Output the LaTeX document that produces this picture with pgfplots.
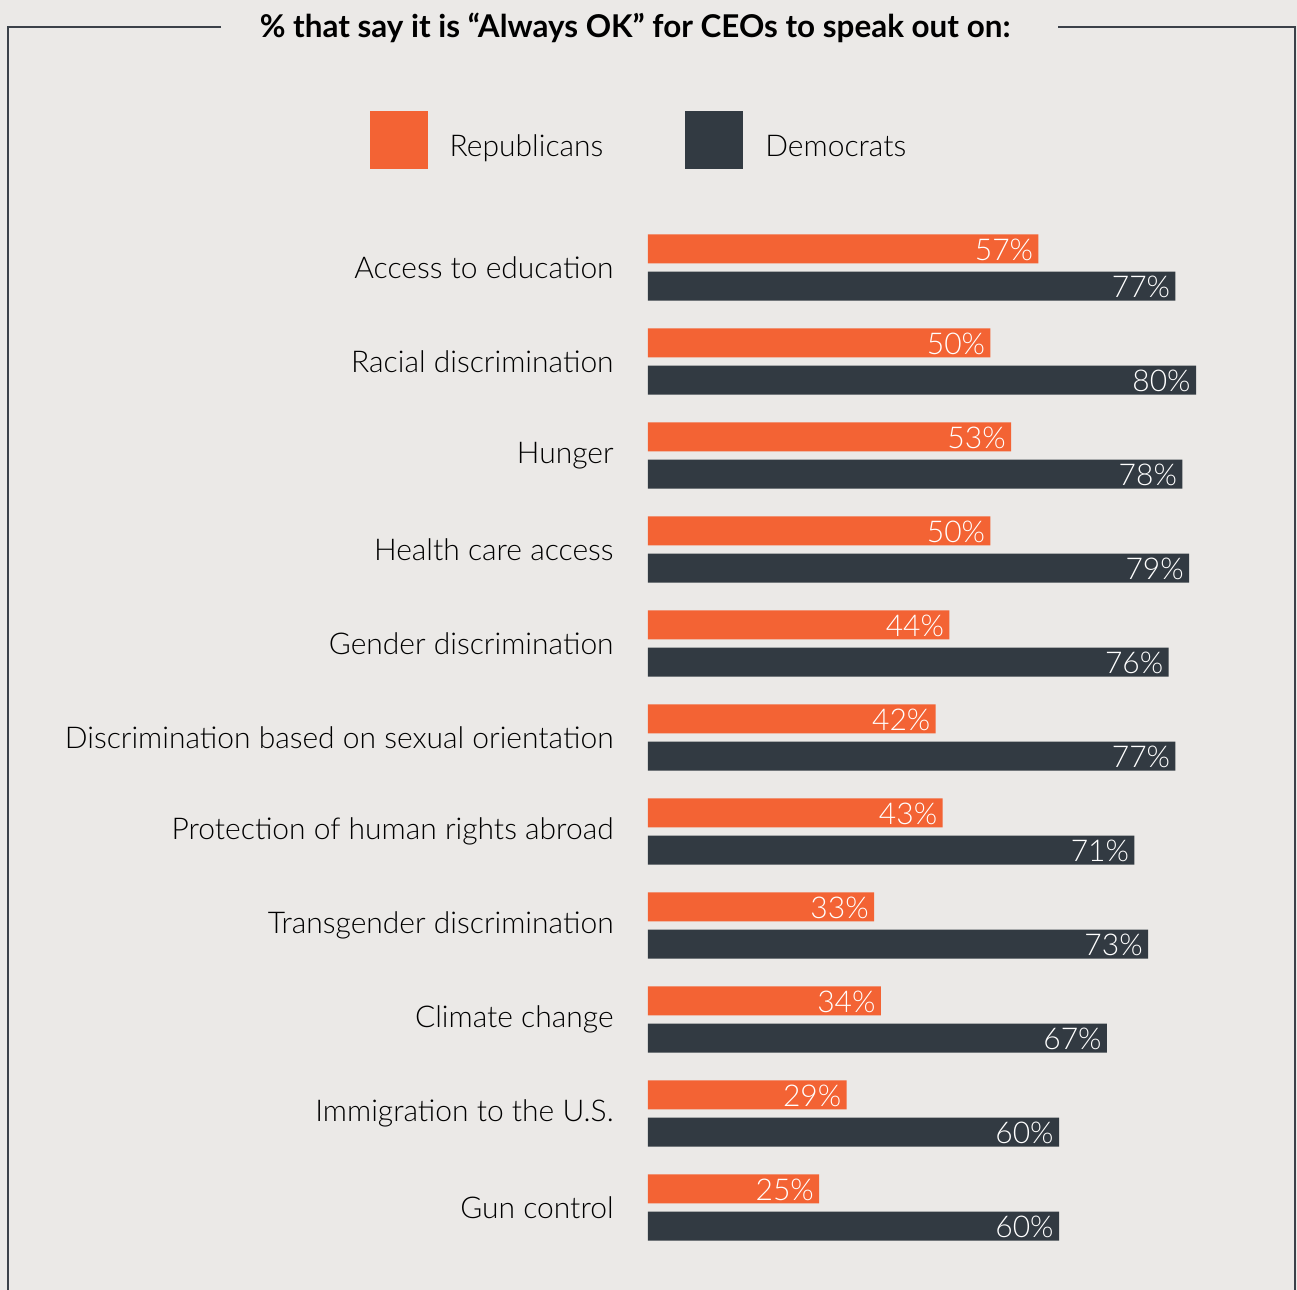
\documentclass[border=0pt]{standalone}
\usepackage{pgfplots}
\pgfplotsset{compat=1.18}
\usepackage{fontspec}
\setmainfont{Lato Light}[BoldFont={Lato Bold}]
\definecolor{rep}{HTML}{F36334}
\definecolor{dem}{HTML}{323A42}
\definecolor{bg}{HTML}{EBE9E7}
\definecolor{framec}{HTML}{3B4149}
\begin{document}
\begin{tikzpicture}
\path[use as bounding box, fill=bg] (0,0) rectangle (648.5pt,645pt);
\draw[framec, line width=1pt] (110.5pt,631.5pt) -- (4pt,631.5pt) -- (4pt,-1pt);
\draw[framec, line width=1pt] (529pt,631.5pt) -- (647.5pt,631.5pt) -- (647.5pt,-1pt);
\node[anchor=base, font=\fontsize{15.7}{18}\selectfont\bfseries, inner sep=0pt] at (317.5pt,626pt) {\% that say it is “Always OK” for CEOs to speak out on:};
\begin{axis}[
  at={(324pt,558.25pt)}, anchor=north west,
  x=3.425pt, y=47pt, xmin=0, xmax=94, ymin=0, ymax=11.6, y dir=reverse,
  clip=false, axis line style={draw=none}, tick style={draw=none}, major tick length=0pt,
  xtick=\empty, ytick={1,...,11},
  yticklabels={Access to education, Racial discrimination, Hunger, Health care access, Gender discrimination, Discrimination based on sexual orientation, Protection of human rights abroad, Transgender discrimination, Climate change, Immigration to the U.S., Gun control},
  yticklabel style={inner sep=0pt, xshift=-17pt, font=\fontsize{15}{18}\selectfont},
  xbar, bar width=14.5pt, bar shift=0pt,
  point meta=x,
  /pgf/number format/assume math mode=true,
  nodes near coords={\pgfmathprintnumber{\pgfplotspointmeta}\%},
  every node near coord/.append style={anchor=east, inner sep=0pt, xshift=-2.5pt, yshift=-0.5pt, text=white, font=\fontsize{15}{18}\selectfont},
  legend style={at={(-0.0155,1.0307)}, anchor=center, draw=none, fill=none, legend columns=2,
    font=\fontsize{15}{18}\selectfont, nodes={inner sep=0pt},
    /tikz/every even column/.append style={column sep=41pt}},
  legend image code/.code={\fill[#1] (0pt,-11pt) rectangle (29pt,18pt); \path (40pt,0pt);},
]
\addplot[fill=rep, draw=none] coordinates {
(57,0.803) (50,1.803) (53,2.803) (50,3.803) (44,4.803) (42,5.803) (43,6.803) (33,7.803) (34,8.803) (29,9.803) (25,10.803)};
\addplot[fill=dem, draw=none] coordinates {
(77,1.197) (80,2.197) (78,3.197) (79,4.197) (76,5.197) (77,6.197) (71,7.197) (73,8.197) (67,9.197) (60,10.197) (60,11.197)};
\legend{Republicans, Democrats}
\end{axis}
\end{tikzpicture}
\end{document}
